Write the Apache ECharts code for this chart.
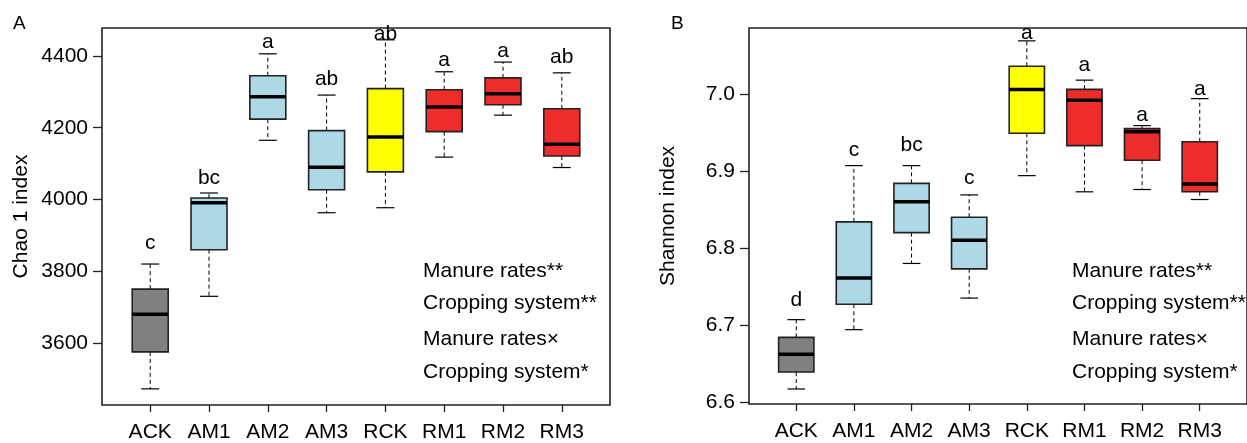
<!DOCTYPE html>
<html>
<head>
<meta charset="utf-8">
<script src="https://cdn.jsdelivr.net/npm/echarts@6/dist/echarts.min.js"></script>
<style>
  html, body { margin: 0; padding: 0; background: #fff; }
  #main { width: 1247px; height: 443px; }
</style>
</head>
<body>
<div id="main"></div>
<script>
var categorias = ['ACK', 'AM1', 'AM2', 'AM3', 'RCK', 'RM1', 'RM2', 'RM3'];
var colores = ['#808080', '#ADD8E6', '#ADD8E6', '#ADD8E6', '#FFFF00', '#EE2C2C', '#EE2C2C', '#EE2C2C'];

// Chao 1: [min, Q1, mediana, Q3, max]
var chaoMin = [3472, 3730, 4165, 3963, 3977, 4118, 4235, 4089];
var chaoQ1  = [3575, 3860, 4224, 4027, 4077, 4189, 4264, 4121];
var chaoMed = [3680, 3991, 4286, 4090, 4174, 4258, 4295, 4154];
var chaoQ3  = [3750, 4004, 4345, 4192, 4309, 4306, 4339, 4253];
var chaoMax = [3820, 4018, 4406, 4291, 4445, 4356, 4383, 4353];
var chaoLetras = ['c', 'bc', 'a', 'ab', 'ab', 'a', 'a', 'ab'];
var chaoLetraY = [3879, 4060, 4439, 4336, 4460, 4389, 4412, 4396];
var chaoTicks = [3600, 3800, 4000, 4200, 4400];

// Shannon
var shanMin = [6.617, 6.694, 6.780, 6.735, 6.894, 6.873, 6.876, 6.863];
var shanQ1  = [6.639, 6.727, 6.820, 6.773, 6.949, 6.933, 6.914, 6.873];
var shanMed = [6.662, 6.761, 6.860, 6.810, 7.006, 6.992, 6.951, 6.883];
var shanQ3  = [6.684, 6.834, 6.884, 6.840, 7.036, 7.006, 6.955, 6.938];
var shanMax = [6.707, 6.907, 6.907, 6.869, 7.069, 7.018, 6.959, 6.994];
var shanLetras = ['d', 'c', 'bc', 'c', 'a', 'a', 'a', 'a'];
var shanLetraY = [6.732, 6.927, 6.933, 6.891, 7.079, 7.038, 6.973, 7.006];
var shanTicks = [6.6, 6.7, 6.8, 6.9, 7.0];

var fuente = 'Liberation Sans, Arial, sans-serif';

function ArmaDatos(mn, q1, md, q3, mx, ly) {
     var d = [];
     for (var i = 0; i < categorias.length; i++) {
          d.push([i + 1, mn[i], q1[i], md[i], q3[i], mx[i], ly[i]]);
     }
     return d;
}

function DibujaCaja(letras) {
     return function (params, api) {
          var x = api.value(0);
          var i = params.dataIndex;
          var pMin = api.coord([x, api.value(1)]);
          var pQ1 = api.coord([x, api.value(2)]);
          var pMed = api.coord([x, api.value(3)]);
          var pQ3 = api.coord([x, api.value(4)]);
          var pMax = api.coord([x, api.value(5)]);
          var pLet = api.coord([x, api.value(6)]);
          var ancho = api.size([1, 0])[0];
          var hw = ancho * 0.306;
          var cw = hw / 2;
          var cx = pMed[0];
          var dash = { stroke: '#000', lineWidth: 1, lineDash: [4, 3] };
          var solido = { stroke: '#000', lineWidth: 1.2 };
          return {
               type: 'group',
               children: [
                    { type: 'line', shape: { x1: cx, y1: pQ3[1], x2: cx, y2: pMax[1] }, style: dash },
                    { type: 'line', shape: { x1: cx, y1: pQ1[1], x2: cx, y2: pMin[1] }, style: dash },
                    { type: 'line', shape: { x1: cx - cw, y1: pMax[1], x2: cx + cw, y2: pMax[1] }, style: solido },
                    { type: 'line', shape: { x1: cx - cw, y1: pMin[1], x2: cx + cw, y2: pMin[1] }, style: solido },
                    {
                         type: 'rect',
                         shape: { x: cx - hw, y: pQ3[1], width: hw * 2, height: pQ1[1] - pQ3[1] },
                         style: { fill: colores[i], stroke: '#222', lineWidth: 1.6 }
                    },
                    { type: 'line', shape: { x1: cx - hw, y1: pMed[1], x2: cx + hw, y2: pMed[1] }, style: { stroke: '#000', lineWidth: 3.5 } },
                    {
                         type: 'text',
                         style: {
                              x: cx, y: pLet[1], text: letras[i],
                              align: 'center', verticalAlign: 'middle',
                              font: '21px ' + fuente, fill: '#000'
                         }
                    }
               ]
          };
     };
}

function EjeX(grid) {
     return {
          type: 'value', gridIndex: grid, min: 0.18, max: 8.82,
          splitLine: { show: false },
          axisLine: { show: false },
          axisTick: { show: true, length: 7, customValues: [1, 2, 3, 4, 5, 6, 7, 8], lineStyle: { color: '#222', width: 1.3 } },
          axisLabel: {
               customValues: [1, 2, 3, 4, 5, 6, 7, 8], margin: 17,
               fontSize: 21, fontFamily: fuente, color: '#000',
               formatter: function (v) { return categorias[Math.round(v) - 1]; }
          }
     };
}

function EjeY(grid, mn, mx, ticks, nombre, dec) {
     return {
          type: 'value', gridIndex: grid, min: mn, max: mx,
          name: nombre, nameLocation: 'middle', nameGap: 70,
          nameTextStyle: { fontSize: 21, fontFamily: fuente, color: '#000' },
          splitLine: { show: false },
          axisLine: { show: false },
          axisTick: { show: true, length: 9, customValues: ticks, lineStyle: { color: '#222', width: 1.3 } },
          axisLabel: {
               customValues: ticks, margin: 14,
               fontSize: 21, fontFamily: fuente, color: '#000',
               formatter: function (v) { return dec ? v.toFixed(dec) : String(v); }
          }
     };
}

function Anotacion(x) {
     var l = ['Manure rates**', 'Cropping system**', 'Manure rates\u00d7', 'Cropping system*'];
     var ys = [272, 304, 340, 373];
     var els = [];
     for (var k = 0; k < l.length; k++) {
          els.push({
               type: 'text', left: x, top: ys[k] - 11,
               style: { text: l[k], font: '21px ' + fuente, fill: '#000' }
          });
     }
     return els;
}

var grafica = echarts.init(document.getElementById('main'));

grafica.setOption({
     animation: false,
     backgroundColor: '#fff',
     grid: [
          { left: 102, top: 28, width: 508, height: 377, show: true, borderColor: '#222', borderWidth: 1.6, backgroundColor: 'transparent' },
          { left: 749, top: 28, width: 508, height: 376, show: true, borderColor: '#222', borderWidth: 1.6, backgroundColor: 'transparent' }
     ],
     xAxis: [EjeX(0), EjeX(1)],
     yAxis: [
          EjeY(0, 3427, 4478, chaoTicks, 'Chao 1 index', 0),
          EjeY(1, 6.5975, 7.0857, shanTicks, 'Shannon index', 1)
     ],
     graphic: [
          { type: 'text', left: 13, top: 14, style: { text: 'A', font: '19px ' + fuente, fill: '#000' } },
          { type: 'text', left: 671, top: 14, style: { text: 'B', font: '19px ' + fuente, fill: '#000' } }
     ].concat(Anotacion(423)).concat(Anotacion(1072)),
     series: [
          {
               type: 'custom', xAxisIndex: 0, yAxisIndex: 0,
               renderItem: DibujaCaja(chaoLetras),
               encode: { x: 0, y: [1, 2, 3, 4, 5, 6] },
               data: ArmaDatos(chaoMin, chaoQ1, chaoMed, chaoQ3, chaoMax, chaoLetraY)
          },
          {
               type: 'custom', xAxisIndex: 1, yAxisIndex: 1,
               renderItem: DibujaCaja(shanLetras),
               encode: { x: 0, y: [1, 2, 3, 4, 5, 6] },
               data: ArmaDatos(shanMin, shanQ1, shanMed, shanQ3, shanMax, shanLetraY)
          }
     ]
});
</script>
</body>
</html>
